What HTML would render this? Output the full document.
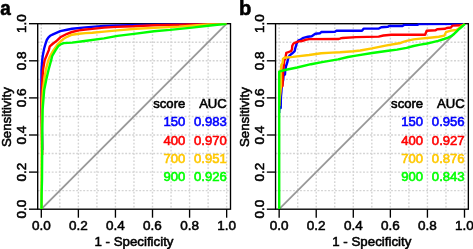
<!DOCTYPE html>
<html><head><meta charset="utf-8"><title>ROC curves</title>
<style>
html,body{margin:0;padding:0;background:#fff;}
body{width:473px;height:249px;overflow:hidden;font-family:"Liberation Sans",sans-serif;}
svg{display:block;will-change:transform;}
</style></head>
<body>
<svg width="473" height="249" viewBox="0 0 473 249">
<rect x="0" y="0" width="473" height="249" fill="#fff"/>
<g stroke="#d4d4d4" stroke-width="1.4" stroke-dasharray="1.9 1.6" fill="none"><line x1="41.30" y1="23.70" x2="41.30" y2="209.20"/><line x1="59.83" y1="23.70" x2="59.83" y2="209.20"/><line x1="78.37" y1="23.70" x2="78.37" y2="209.20"/><line x1="96.91" y1="23.70" x2="96.91" y2="209.20"/><line x1="115.44" y1="23.70" x2="115.44" y2="209.20"/><line x1="133.97" y1="23.70" x2="133.97" y2="209.20"/><line x1="152.51" y1="23.70" x2="152.51" y2="209.20"/><line x1="171.05" y1="23.70" x2="171.05" y2="209.20"/><line x1="189.58" y1="23.70" x2="189.58" y2="209.20"/><line x1="208.12" y1="23.70" x2="208.12" y2="209.20"/><line x1="226.65" y1="23.70" x2="226.65" y2="209.20"/><line x1="37.70" y1="190.65" x2="230.50" y2="190.65"/><line x1="37.70" y1="172.10" x2="230.50" y2="172.10"/><line x1="37.70" y1="153.55" x2="230.50" y2="153.55"/><line x1="37.70" y1="135.00" x2="230.50" y2="135.00"/><line x1="37.70" y1="116.45" x2="230.50" y2="116.45"/><line x1="37.70" y1="97.90" x2="230.50" y2="97.90"/><line x1="37.70" y1="79.35" x2="230.50" y2="79.35"/><line x1="37.70" y1="60.80" x2="230.50" y2="60.80"/><line x1="37.70" y1="42.25" x2="230.50" y2="42.25"/></g>
<line x1="41.30" y1="209.20" x2="226.65" y2="23.70" stroke="#989898" stroke-width="1.8"/>
<rect x="37.70" y="23.70" width="192.80" height="185.50" fill="none" stroke="#000" stroke-width="1.35"/>
<clipPath id="clipa"><rect x="37.70" y="23.25" width="192.80" height="185.95"/></clipPath>
<g clip-path="url(#clipa)" fill="none" stroke-width="2.4" stroke-linejoin="round" stroke-linecap="butt">
<polyline points="42.2,150.0 42.1,140.0 41.6,110.0 41.4,90.0 41.5,70.0 42.2,60.4 42.7,56.0 44.1,48.8 45.4,44.1 46.8,40.0 48.3,37.6 50.1,35.8 53.5,34.1 60.3,31.1 67.1,29.7 72.0,28.7 85.5,27.4 104.0,25.9 120.0,25.4 136.0,25.0 160.0,24.5 190.0,24.0 226.5,23.7" stroke="#0000ff"/>
<polyline points="42.2,155.0 42.1,145.0 41.6,120.0 41.5,100.0 41.8,90.0 42.4,80.0 43.0,70.0 44.6,60.4 46.4,56.0 48.8,50.1 49.8,46.3 52.5,44.0 56.9,40.6 60.3,37.3 63.7,35.5 67.1,33.8 72.0,32.0 78.8,30.4 85.5,29.5 92.3,28.9 104.0,27.6 116.0,26.9 133.5,26.3 143.2,25.7 154.0,25.2 175.3,24.7 192.0,24.3 210.0,23.9 226.5,23.7" stroke="#ff0000"/>
<polyline points="41.5,209.0 41.5,195.0 41.6,170.0 41.7,130.0 42.4,100.0 43.0,90.0 44.2,80.0 45.8,70.0 48.3,60.4 50.1,56.0 53.5,50.1 56.9,45.4 60.3,41.6 63.7,38.8 67.1,36.8 72.0,34.7 78.8,33.8 85.5,33.1 92.3,32.7 104.0,31.6 117.5,30.4 136.0,28.7 154.0,27.9 179.0,26.6 192.0,25.6 208.0,24.3 226.5,23.7" stroke="#ffc800"/>
<polyline points="41.5,209.0 41.6,195.0 42.0,180.0 42.2,150.0 42.3,130.0 42.5,120.0 42.6,110.0 43.4,100.0 44.2,90.0 46.2,80.0 48.5,70.0 51.1,60.4 52.2,56.0 55.6,50.1 58.3,46.1 61.0,44.1 63.7,43.1 72.0,42.6 82.8,41.2 104.0,38.4 117.5,35.9 136.0,33.6 154.0,31.2 170.0,29.9 192.0,27.6 208.0,25.8 224.0,24.0 226.5,23.7" stroke="#00ff00"/>
</g>
<g stroke="#000" stroke-width="1.35"><line x1="41.30" y1="209.20" x2="41.30" y2="217.70"/><line x1="37.70" y1="209.20" x2="29.00" y2="209.20"/><line x1="78.37" y1="209.20" x2="78.37" y2="217.70"/><line x1="37.70" y1="172.10" x2="29.00" y2="172.10"/><line x1="115.44" y1="209.20" x2="115.44" y2="217.70"/><line x1="37.70" y1="135.00" x2="29.00" y2="135.00"/><line x1="152.51" y1="209.20" x2="152.51" y2="217.70"/><line x1="37.70" y1="97.90" x2="29.00" y2="97.90"/><line x1="189.58" y1="209.20" x2="189.58" y2="217.70"/><line x1="37.70" y1="60.80" x2="29.00" y2="60.80"/><line x1="226.65" y1="209.20" x2="226.65" y2="217.70"/><line x1="37.70" y1="23.70" x2="29.00" y2="23.70"/></g>
<g font-family="Liberation Sans, sans-serif" font-size="13.5" fill="#000" stroke="#000" stroke-width="0.55"><text x="41.30" y="230.3" text-anchor="middle">0.0</text><text transform="translate(25.90,209.20) rotate(-90)" text-anchor="middle">0.0</text><text x="78.37" y="230.3" text-anchor="middle">0.2</text><text transform="translate(25.90,172.10) rotate(-90)" text-anchor="middle">0.2</text><text x="115.44" y="230.3" text-anchor="middle">0.4</text><text transform="translate(25.90,135.00) rotate(-90)" text-anchor="middle">0.4</text><text x="152.51" y="230.3" text-anchor="middle">0.6</text><text transform="translate(25.90,97.90) rotate(-90)" text-anchor="middle">0.6</text><text x="189.58" y="230.3" text-anchor="middle">0.8</text><text transform="translate(25.90,60.80) rotate(-90)" text-anchor="middle">0.8</text><text x="226.65" y="230.3" text-anchor="middle">1.0</text><text transform="translate(25.90,23.70) rotate(-90)" text-anchor="middle">1.0</text><text x="133.97" y="246.3" font-size="13.3" text-anchor="middle">1 - Specificity</text><text transform="translate(10.70,117.15) rotate(-90)" font-size="13.3" text-anchor="middle">Sensitivity</text></g>
<g font-family="Liberation Sans, sans-serif" font-size="13.1" fill="#000" stroke="#000" stroke-width="0.6"><text x="185.30" y="107.8" text-anchor="end">score</text><text x="226.80" y="107.8" text-anchor="end">AUC</text><text x="185.30" y="126.3" text-anchor="end" fill="#0000ff" stroke="#0000ff">150</text><text x="226.80" y="126.3" text-anchor="end" fill="#0000ff" stroke="#0000ff">0.983</text><text x="185.30" y="144.6" text-anchor="end" fill="#ff0000" stroke="#ff0000">400</text><text x="226.80" y="144.6" text-anchor="end" fill="#ff0000" stroke="#ff0000">0.970</text><text x="185.30" y="162.9" text-anchor="end" fill="#ffc800" stroke="#ffc800">700</text><text x="226.80" y="162.9" text-anchor="end" fill="#ffc800" stroke="#ffc800">0.951</text><text x="185.30" y="181.3" text-anchor="end" fill="#00ff00" stroke="#00ff00">900</text><text x="226.80" y="181.3" text-anchor="end" fill="#00ff00" stroke="#00ff00">0.926</text></g>
<text transform="translate(0.2,14.6) scale(0.9,1)" font-family="Liberation Sans, sans-serif" font-size="21" font-weight="bold" fill="#000" stroke="#000" stroke-width="0.6">a</text>
<g stroke="#d4d4d4" stroke-width="1.4" stroke-dasharray="1.9 1.6" fill="none"><line x1="279.15" y1="23.70" x2="279.15" y2="209.20"/><line x1="297.69" y1="23.70" x2="297.69" y2="209.20"/><line x1="316.22" y1="23.70" x2="316.22" y2="209.20"/><line x1="334.75" y1="23.70" x2="334.75" y2="209.20"/><line x1="353.29" y1="23.70" x2="353.29" y2="209.20"/><line x1="371.82" y1="23.70" x2="371.82" y2="209.20"/><line x1="390.36" y1="23.70" x2="390.36" y2="209.20"/><line x1="408.89" y1="23.70" x2="408.89" y2="209.20"/><line x1="427.43" y1="23.70" x2="427.43" y2="209.20"/><line x1="445.96" y1="23.70" x2="445.96" y2="209.20"/><line x1="464.50" y1="23.70" x2="464.50" y2="209.20"/><line x1="275.55" y1="190.65" x2="468.35" y2="190.65"/><line x1="275.55" y1="172.10" x2="468.35" y2="172.10"/><line x1="275.55" y1="153.55" x2="468.35" y2="153.55"/><line x1="275.55" y1="135.00" x2="468.35" y2="135.00"/><line x1="275.55" y1="116.45" x2="468.35" y2="116.45"/><line x1="275.55" y1="97.90" x2="468.35" y2="97.90"/><line x1="275.55" y1="79.35" x2="468.35" y2="79.35"/><line x1="275.55" y1="60.80" x2="468.35" y2="60.80"/><line x1="275.55" y1="42.25" x2="468.35" y2="42.25"/></g>
<line x1="279.15" y1="209.20" x2="464.50" y2="23.70" stroke="#989898" stroke-width="1.8"/>
<rect x="275.55" y="23.70" width="192.80" height="185.50" fill="none" stroke="#000" stroke-width="1.35"/>
<clipPath id="clipb"><rect x="275.55" y="23.25" width="192.80" height="185.95"/></clipPath>
<g clip-path="url(#clipb)" fill="none" stroke-width="2.4" stroke-linejoin="round" stroke-linecap="butt">
<polyline points="279.2,113.0 279.2,109.0 280.7,108.0 280.9,97.0 281.4,92.0 281.8,86.0 283.2,80.0 283.6,75.2 285.0,74.4 285.2,71.0 285.9,66.5 287.3,62.4 288.1,58.8 289.4,55.6 292.3,53.3 294.7,51.1 295.3,48.1 296.5,44.1 297.7,41.5 298.6,40.3 300.7,39.6 303.5,37.8 307.9,36.7 311.7,36.2 313.5,35.0 315.3,33.8 320.1,33.2 321.3,32.0 334.6,31.9 336.4,30.8 362.0,30.8 363.8,28.6 378.9,28.5 381.3,27.2 387.9,26.8 389.1,26.0 402.4,26.0 404.0,24.9 417.9,24.8 418.5,24.1 464.5,23.8" stroke="#0000ff"/>
<polyline points="279.2,106.0 279.3,100.0 280.6,89.0 282.0,86.0 282.6,86.0 283.0,74.0 283.4,69.3 284.2,60.8 285.4,58.4 285.7,56.5 286.3,52.9 288.7,52.0 291.1,51.1 292.0,49.3 292.3,45.7 293.5,43.5 295.9,42.4 298.9,41.4 301.9,41.0 305.5,39.8 309.1,39.1 338.9,39.0 341.3,38.1 342.4,38.0 356.1,37.1 378.6,36.6 383.4,35.5 391.4,34.8 425.1,34.8 426.7,30.8 435.6,30.3 437.2,29.2 445.2,28.8 446.8,28.0 450.9,27.5 452.5,25.6 461.3,25.3 464.5,24.5" stroke="#ff0000"/>
<polyline points="279.2,106.0 279.5,100.0 281.0,86.0 281.0,69.3 281.4,64.9 282.6,63.2 283.0,58.8 284.2,57.8 293.1,56.9 297.1,56.4 309.1,55.0 321.2,53.2 332.0,52.6 340.0,52.3 353.5,51.3 360.2,50.5 372.0,48.4 385.5,45.6 399.0,43.3 400.0,43.2 403.4,41.8 406.8,40.8 413.5,39.4 420.3,38.6 427.0,38.0 432.0,37.5 438.8,36.7 444.4,35.6 446.0,32.2 450.1,30.8 456.5,29.9 459.5,28.0 461.5,26.2 463.7,24.6 464.6,23.8" stroke="#ffc800"/>
<polyline points="279.2,209.0 279.2,71.6 285.0,70.0 297.1,67.5 311.0,64.2 322.0,62.1 338.0,59.4 348.0,57.0 356.1,55.6 372.2,53.0 388.2,50.7 397.0,49.6 406.6,47.9 413.5,46.0 420.3,44.6 427.1,43.5 432.0,42.4 438.1,40.9 444.1,39.0 448.0,37.6 451.1,36.2 454.3,33.7 456.7,31.3 458.4,29.6 460.0,28.3 461.5,27.0 463.1,25.6 464.7,24.1 464.9,23.8" stroke="#00ff00"/>
</g>
<g stroke="#000" stroke-width="1.35"><line x1="279.15" y1="209.20" x2="279.15" y2="217.70"/><line x1="275.55" y1="209.20" x2="266.85" y2="209.20"/><line x1="316.22" y1="209.20" x2="316.22" y2="217.70"/><line x1="275.55" y1="172.10" x2="266.85" y2="172.10"/><line x1="353.29" y1="209.20" x2="353.29" y2="217.70"/><line x1="275.55" y1="135.00" x2="266.85" y2="135.00"/><line x1="390.36" y1="209.20" x2="390.36" y2="217.70"/><line x1="275.55" y1="97.90" x2="266.85" y2="97.90"/><line x1="427.43" y1="209.20" x2="427.43" y2="217.70"/><line x1="275.55" y1="60.80" x2="266.85" y2="60.80"/><line x1="464.50" y1="209.20" x2="464.50" y2="217.70"/><line x1="275.55" y1="23.70" x2="266.85" y2="23.70"/></g>
<g font-family="Liberation Sans, sans-serif" font-size="13.5" fill="#000" stroke="#000" stroke-width="0.55"><text x="279.15" y="230.3" text-anchor="middle">0.0</text><text transform="translate(263.75,209.20) rotate(-90)" text-anchor="middle">0.0</text><text x="316.22" y="230.3" text-anchor="middle">0.2</text><text transform="translate(263.75,172.10) rotate(-90)" text-anchor="middle">0.2</text><text x="353.29" y="230.3" text-anchor="middle">0.4</text><text transform="translate(263.75,135.00) rotate(-90)" text-anchor="middle">0.4</text><text x="390.36" y="230.3" text-anchor="middle">0.6</text><text transform="translate(263.75,97.90) rotate(-90)" text-anchor="middle">0.6</text><text x="427.43" y="230.3" text-anchor="middle">0.8</text><text transform="translate(263.75,60.80) rotate(-90)" text-anchor="middle">0.8</text><text x="464.50" y="230.3" text-anchor="middle">1.0</text><text transform="translate(263.75,23.70) rotate(-90)" text-anchor="middle">1.0</text><text x="371.82" y="246.3" font-size="13.3" text-anchor="middle">1 - Specificity</text><text transform="translate(248.55,117.15) rotate(-90)" font-size="13.3" text-anchor="middle">Sensitivity</text></g>
<g font-family="Liberation Sans, sans-serif" font-size="13.1" fill="#000" stroke="#000" stroke-width="0.6"><text x="423.15" y="107.8" text-anchor="end">score</text><text x="464.65" y="107.8" text-anchor="end">AUC</text><text x="423.15" y="126.3" text-anchor="end" fill="#0000ff" stroke="#0000ff">150</text><text x="464.65" y="126.3" text-anchor="end" fill="#0000ff" stroke="#0000ff">0.956</text><text x="423.15" y="144.6" text-anchor="end" fill="#ff0000" stroke="#ff0000">400</text><text x="464.65" y="144.6" text-anchor="end" fill="#ff0000" stroke="#ff0000">0.927</text><text x="423.15" y="162.9" text-anchor="end" fill="#ffc800" stroke="#ffc800">700</text><text x="464.65" y="162.9" text-anchor="end" fill="#ffc800" stroke="#ffc800">0.876</text><text x="423.15" y="181.3" text-anchor="end" fill="#00ff00" stroke="#00ff00">900</text><text x="464.65" y="181.3" text-anchor="end" fill="#00ff00" stroke="#00ff00">0.843</text></g>
<text transform="translate(239.0,14.6) scale(0.96,1)" font-family="Liberation Sans, sans-serif" font-size="21" font-weight="bold" fill="#000" stroke="#000" stroke-width="0.6">b</text>
</svg>
</body></html>
